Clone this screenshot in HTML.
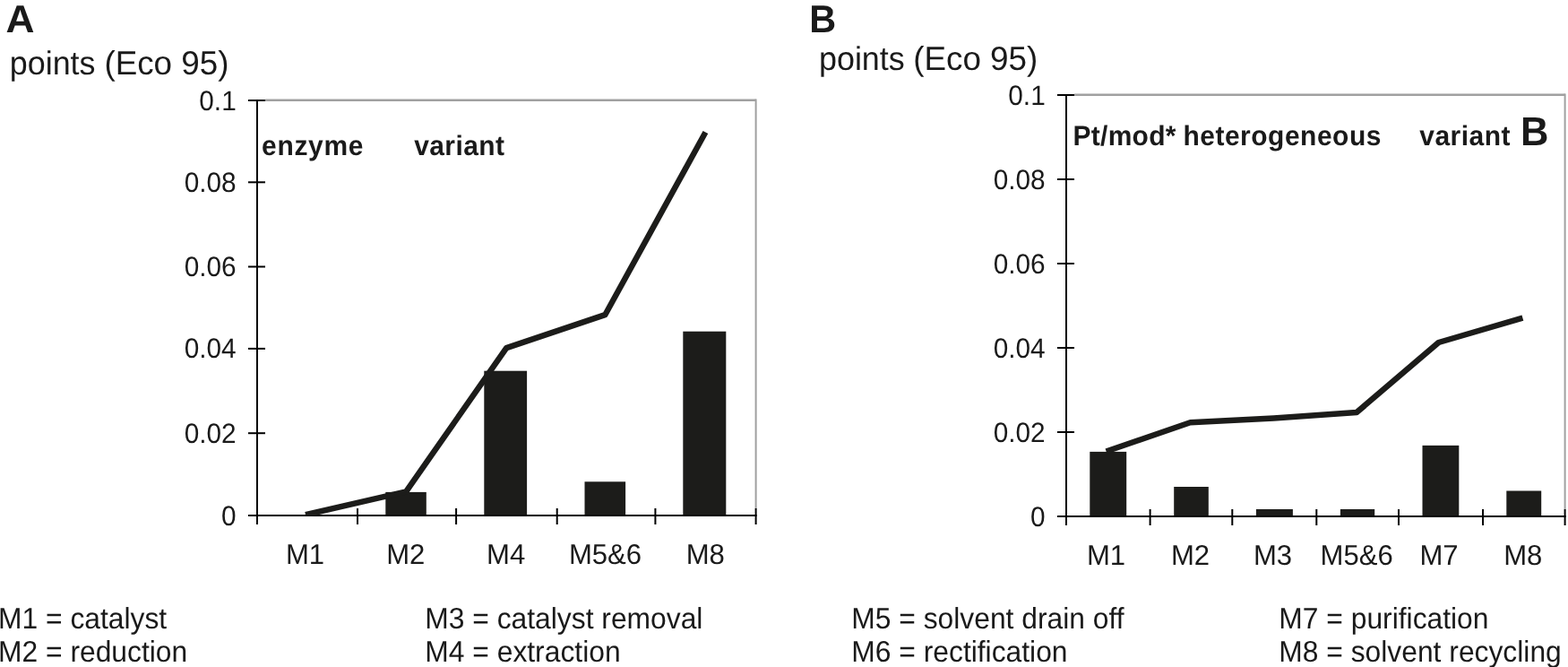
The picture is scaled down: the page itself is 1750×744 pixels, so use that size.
<!DOCTYPE html>
<html><head><meta charset="utf-8"><title>Eco 95 points</title>
<style>
html,body{margin:0;padding:0;background:#fff;}
svg{display:block;}
text{font-family:'Liberation Sans', sans-serif;fill:#1a1a1a;text-rendering:geometricPrecision;}
</style></head><body>
<svg width="1750" height="744" viewBox="0 0 1750 744">
<rect width="1750" height="744" fill="#fff"/>
<path d="M296.0 111.8H843.6" fill="none" stroke="#a0a0a0" stroke-width="2.4"/>
<path d="M843.6 110.6V567.0" fill="none" stroke="#a0a0a0" stroke-width="2"/>
<rect x="430.30" y="548.90" width="45.50" height="26.10" fill="#1c1c1a"/>
<rect x="540.30" y="413.70" width="47.80" height="161.30" fill="#1c1c1a"/>
<rect x="652.50" y="537.30" width="45.60" height="37.70" fill="#1c1c1a"/>
<rect x="762.30" y="369.70" width="48.00" height="205.30" fill="#1c1c1a"/>
<path d="M287.0 111V585.0" stroke="#000" stroke-width="2" fill="none"/>
<path d="M277.0 575.0H844.6" stroke="#000" stroke-width="2" fill="none"/>
<path d="M277.0 112.00H296.0" stroke="#000" stroke-width="2"/>
<path d="M277.0 203.30H296.0" stroke="#000" stroke-width="2"/>
<path d="M277.0 297.50H296.0" stroke="#000" stroke-width="2"/>
<path d="M277.0 388.90H296.0" stroke="#000" stroke-width="2"/>
<path d="M277.0 483.20H296.0" stroke="#000" stroke-width="2"/>
<path d="M277.0 575.00H296.0" stroke="#000" stroke-width="2"/>
<path d="M287.00 567.0V585.0" stroke="#000" stroke-width="2"/>
<path d="M399.00 567.0V585.0" stroke="#000" stroke-width="2"/>
<path d="M509.10 567.0V585.0" stroke="#000" stroke-width="2"/>
<path d="M621.70 567.0V585.0" stroke="#000" stroke-width="2"/>
<path d="M731.40 567.0V585.0" stroke="#000" stroke-width="2"/>
<path d="M843.60 567.0V585.0" stroke="#000" stroke-width="2"/>
<clipPath id="c287"><rect x="287.0" y="107" width="556.6" height="468.5"/></clipPath>
<polyline clip-path="url(#c287)" points="341.00,574.20 453.20,548.30 565.20,388.10 675.30,351.20 787.40,147.50" fill="none" stroke="#1c1c1a" stroke-width="6.5" stroke-linejoin="round" stroke-linecap="butt"/>
<text transform="translate(263.70 122.50) scale(1.0 1.04)" font-size="29.8" text-anchor="end">0.1</text>
<text transform="translate(263.70 213.80) scale(1.0 1.04)" font-size="29.8" text-anchor="end">0.08</text>
<text transform="translate(263.70 308.00) scale(1.0 1.04)" font-size="29.8" text-anchor="end">0.06</text>
<text transform="translate(263.70 399.40) scale(1.0 1.04)" font-size="29.8" text-anchor="end">0.04</text>
<text transform="translate(263.70 493.70) scale(1.0 1.04)" font-size="29.8" text-anchor="end">0.02</text>
<text transform="translate(263.70 585.50) scale(1.0 1.04)" font-size="29.8" text-anchor="end">0</text>
<text transform="translate(340.50 629.10) scale(1.0 1.017)" font-size="31.1" text-anchor="middle">M1</text>
<text transform="translate(452.80 629.10) scale(1.0 1.017)" font-size="31.1" text-anchor="middle">M2</text>
<text transform="translate(564.70 629.10) scale(1.0 1.017)" font-size="31.1" text-anchor="middle">M4</text>
<text transform="translate(675.50 629.10) scale(1.0 1.017)" font-size="31.1" text-anchor="middle">M5&amp;6</text>
<text transform="translate(787.30 629.10) scale(1.0 1.017)" font-size="31.1" text-anchor="middle">M8</text>
<path d="M1199.0 105.8H1746.6" fill="none" stroke="#a0a0a0" stroke-width="2.4"/>
<path d="M1746.6 104.6V568.0" fill="none" stroke="#a0a0a0" stroke-width="2"/>
<rect x="1216.30" y="503.90" width="40.90" height="72.10" fill="#1c1c1a"/>
<rect x="1310.20" y="543.00" width="38.60" height="33.00" fill="#1c1c1a"/>
<rect x="1401.90" y="568.00" width="41.00" height="8.00" fill="#1c1c1a"/>
<rect x="1495.90" y="568.00" width="38.30" height="8.00" fill="#1c1c1a"/>
<rect x="1587.50" y="496.90" width="40.80" height="79.10" fill="#1c1c1a"/>
<rect x="1681.30" y="547.50" width="38.90" height="28.50" fill="#1c1c1a"/>
<path d="M1190.0 105V586.0" stroke="#000" stroke-width="2" fill="none"/>
<path d="M1180.0 576.0H1747.6" stroke="#000" stroke-width="2" fill="none"/>
<path d="M1180.0 106.00H1199.0" stroke="#000" stroke-width="2"/>
<path d="M1180.0 200.00H1199.0" stroke="#000" stroke-width="2"/>
<path d="M1180.0 294.00H1199.0" stroke="#000" stroke-width="2"/>
<path d="M1180.0 388.00H1199.0" stroke="#000" stroke-width="2"/>
<path d="M1180.0 482.00H1199.0" stroke="#000" stroke-width="2"/>
<path d="M1180.0 576.00H1199.0" stroke="#000" stroke-width="2"/>
<path d="M1190.00 568.0V586.0" stroke="#000" stroke-width="2"/>
<path d="M1283.60 568.0V586.0" stroke="#000" stroke-width="2"/>
<path d="M1375.30 568.0V586.0" stroke="#000" stroke-width="2"/>
<path d="M1469.30 568.0V586.0" stroke="#000" stroke-width="2"/>
<path d="M1561.00 568.0V586.0" stroke="#000" stroke-width="2"/>
<path d="M1655.00 568.0V586.0" stroke="#000" stroke-width="2"/>
<path d="M1746.60 568.0V586.0" stroke="#000" stroke-width="2"/>
<clipPath id="c1190"><rect x="1190.0" y="101" width="556.5999999999999" height="475.5"/></clipPath>
<polyline clip-path="url(#c1190)" points="1234.60,503.50 1328.40,471.30 1421.50,466.40 1514.10,460.00 1605.60,382.00 1699.40,354.60" fill="none" stroke="#1c1c1a" stroke-width="6.5" stroke-linejoin="round" stroke-linecap="butt"/>
<text transform="translate(1166.70 116.50) scale(1.0 1.04)" font-size="29.8" text-anchor="end">0.1</text>
<text transform="translate(1166.70 210.50) scale(1.0 1.04)" font-size="29.8" text-anchor="end">0.08</text>
<text transform="translate(1166.70 304.50) scale(1.0 1.04)" font-size="29.8" text-anchor="end">0.06</text>
<text transform="translate(1166.70 398.50) scale(1.0 1.04)" font-size="29.8" text-anchor="end">0.04</text>
<text transform="translate(1166.70 492.50) scale(1.0 1.04)" font-size="29.8" text-anchor="end">0.02</text>
<text transform="translate(1166.70 586.50) scale(1.0 1.04)" font-size="29.8" text-anchor="end">0</text>
<text transform="translate(1234.50 629.80) scale(1.0 1.017)" font-size="31.1" text-anchor="middle">M1</text>
<text transform="translate(1328.50 629.80) scale(1.0 1.017)" font-size="31.1" text-anchor="middle">M2</text>
<text transform="translate(1420.50 629.80) scale(1.0 1.017)" font-size="31.1" text-anchor="middle">M3</text>
<text transform="translate(1514.10 629.80) scale(1.0 1.017)" font-size="31.1" text-anchor="middle">M5&amp;6</text>
<text transform="translate(1606.00 629.80) scale(1.0 1.017)" font-size="31.1" text-anchor="middle">M7</text>
<text transform="translate(1699.80 629.80) scale(1.0 1.017)" font-size="31.1" text-anchor="middle">M8</text>
<text transform="translate(6.50 35.90) scale(1.025 1.0)" font-size="43.2" font-weight="bold">A</text>
<text transform="translate(10.80 83.20) scale(0.988 1.02)" font-size="36.3">points</text>
<text transform="translate(116.40 83.20) scale(1.014 1.03)" font-size="36.3">(Eco 95)</text>
<text transform="translate(903.20 35.90) scale(0.975 1.015)" font-size="42.5" font-weight="bold">B</text>
<text transform="translate(914.00 77.70) scale(0.988 1.02)" font-size="36.3">points</text>
<text transform="translate(1019.20 77.70) scale(1.014 1.03)" font-size="36.3">(Eco 95)</text>
<text transform="translate(292.00 172.70) scale(1.0 1.04)" font-size="30" font-weight="bold" letter-spacing="0.7">enzyme</text>
<text transform="translate(462.20 172.70) scale(1.0 1.04)" font-size="30" font-weight="bold" letter-spacing="0.4">variant</text>
<text transform="translate(1197.60 162.00) scale(1.0 1.04)" font-size="30" font-weight="bold" letter-spacing="0.25">Pt/mod*</text>
<text transform="translate(1320.40 162.00) scale(1.0 1.04)" font-size="30" font-weight="bold" letter-spacing="0.5">heterogeneous</text>
<text transform="translate(1584.20 162.00) scale(1.0 1.04)" font-size="30" font-weight="bold" letter-spacing="0.5">variant</text>
<text transform="translate(1697.00 162.00) scale(1.0 1.04)" font-size="43.5" font-weight="bold">B</text>
<text transform="translate(-2.00 700.80) scale(1.0 1.04)" font-size="31.8">M1 = catalyst</text>
<text transform="translate(-2.00 737.50) scale(1.0 1.04)" font-size="31.8">M2 = reduction</text>
<text transform="translate(474.30 700.80) scale(1.0 1.04)" font-size="31.8">M3 = catalyst removal</text>
<text transform="translate(474.30 737.50) scale(1.0 1.04)" font-size="31.8">M4 = extraction</text>
<text transform="translate(950.30 700.80) scale(1.0 1.04)" font-size="31.8">M5 = solvent drain off</text>
<text transform="translate(950.30 737.50) scale(1.0 1.04)" font-size="31.8">M6 = rectification</text>
<text transform="translate(1427.30 700.80) scale(1.0 1.04)" font-size="31.8">M7 = purification</text>
<text transform="translate(1427.30 737.50) scale(1.0 1.04)" font-size="31.8">M8 = solvent recycling</text>
</svg>
</body></html>
